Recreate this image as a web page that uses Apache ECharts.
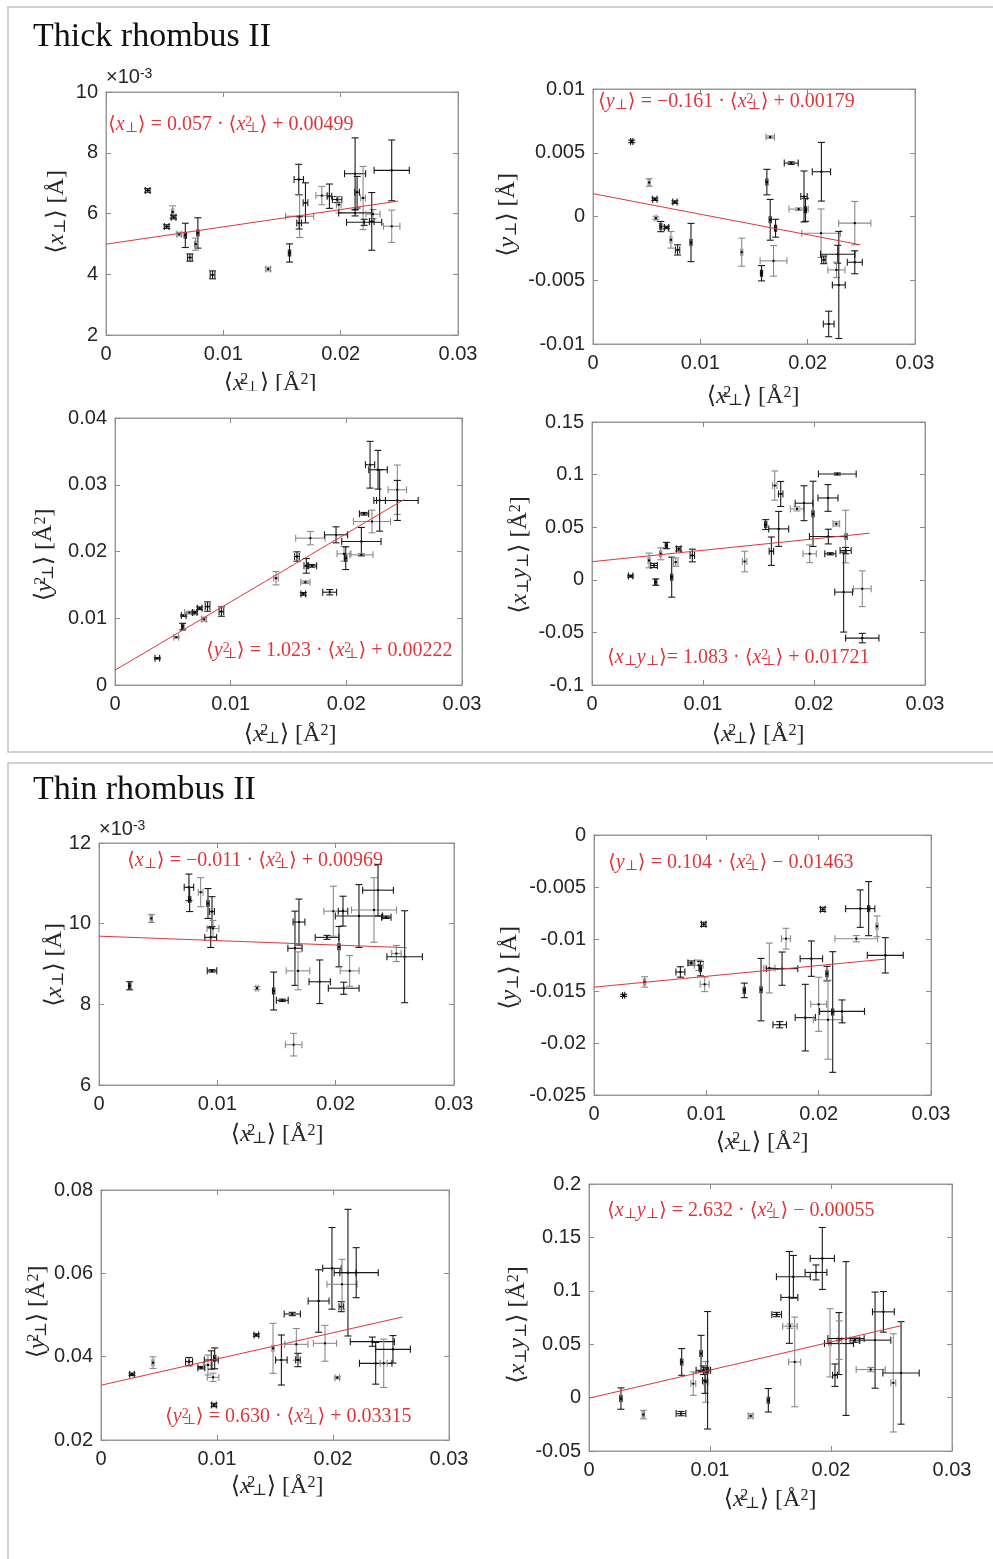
<!DOCTYPE html>
<html>
<head>
<meta charset="utf-8">
<script src="https://cdn.jsdelivr.net/npm/echarts@6/dist/echarts.min.js"></script>
<style>
  html, body { margin: 0; padding: 0; background: #fff; }
  #main { width: 993px; height: 1559px; }
</style>
</head>
<body>
<div id="main"></div>
<script type="text/javascript">
// ---- Thick rhombus II ----  (x = <x_perp^2>, y errors / x errors are half widths)
// <x_perp>, y in units of 1e-3
var thickXpX   = [0.00355,0.00568,0.00576,0.00517,0.00624,0.00676,0.00783,0.00764,0.00715,0.00908,0.01382,0.01564,0.01643,0.0165,0.01646,0.0170,0.01839,0.01904,0.0197,0.01984,0.02123,0.0214,0.02191,0.02123,0.0220,0.02276,0.02265,0.02435,0.02435];
var thickXpY   = [6.76,6.05,5.88,5.57,5.32,5.28,5.36,4.99,4.55,3.98,4.17,4.70,7.12,5.91,5.69,6.35,6.59,6.57,6.46,6.29,7.31,6.70,6.51,6.02,5.71,5.98,5.74,7.42,5.58];
var thickXpXe  = [0.0002,0.0001,0.0002,0.0002,0.0002,0.0001,0.0001,0.0001,0.0002,0.0002,0.0002,0.0001,0.0004,0.0012,0.0002,0.0002,0.0005,0.0002,0.0004,0.0002,0.0009,0.0002,0.0002,0.0014,0.0015,0.0006,0.0002,0.0015,0.0007];
var thickXpYe  = [0.06,0.2,0.06,0.06,0.06,0.4,0.5,0.2,0.12,0.13,0.06,0.3,0.5,0.7,0.2,0.66,0.3,0.4,0.1,0.27,1.18,0.52,1.04,0.1,0.1,0.15,0.95,1.0,0.53];
// <y_perp>
var thickYpX   = [0.00361,0.00523,0.00576,0.00763,0.00586,0.00632,0.00685,0.00726,0.00788,0.00913,0.01386,0.0157,0.0162,0.01651,0.01651,0.01701,0.01682,0.01847,0.01966,0.01916,0.0198,0.02128,0.02125,0.0215,0.0228,0.02268,0.0229,0.02196,0.02439,0.02439];
var thickYpY   = [0.00589,0.00267,0.00136,0.00113,-0.00013,-0.00079,-0.00086,-0.00183,-0.00262,-0.00204,-0.0028,-0.00445,0.0027,0.00623,-0.00026,-0.00092,-0.00348,0.00419,0.00157,0.00058,0.00052,0.00351,-0.00131,-0.0034,-0.00296,-0.00419,-0.00537,-0.00843,-0.00052,-0.00359];
var thickYpXe  = [0.0001,0.0001,0.0002,0.0002,0.0001,0.0001,0.0002,0.0001,0.0002,0.0001,0.0001,0.0001,0.0001,0.0004,0.0001,0.0001,0.00125,0.00065,0.0003,0.0009,0.0001,0.00085,0.0018,0.0002,0.0016,0.0008,0.0006,0.0005,0.0015,0.0007];
var thickYpYe  = [0.0001,0.0003,0.0001,0.0001,0.0001,0.0004,0.0001,0.00065,0.0004,0.0015,0.0011,0.0006,0.001,0.0001,0.0016,0.0007,0.0012,0.0001,0.002,0.0001,0.0009,0.0023,0.0019,0.0003,0.0007,0.0006,0.0042,0.001,0.0017,0.0009];
// <y_perp^2>
var thickY2X   = [0.00366,0.0053,0.00585,0.00594,0.00643,0.00689,0.00732,0.0077,0.0080,0.0092,0.01392,0.01573,0.01628,0.01646,0.01654,0.01703,0.01689,0.01856,0.01911,0.0198,0.01995,0.0213,0.0213,0.02153,0.02205,0.02222,0.02274,0.02288,0.02441,0.02441];
var thickY2Y   = [0.0040,0.00715,0.00875,0.0104,0.01085,0.01085,0.0115,0.00985,0.01175,0.011,0.016,0.01925,0.01365,0.0154,0.01785,0.01785,0.022,0.0139,0.0225,0.01965,0.019,0.0215,0.0195,0.02565,0.033,0.0245,0.03225,0.02765,0.02925,0.02765];
var thickY2Xe  = [0.0002,0.0002,0.0001,0.0002,0.0004,0.0002,0.0002,0.0002,0.0002,0.0002,0.0002,0.0002,0.0002,0.0004,0.0002,0.0004,0.00127,0.0006,0.001,0.0006,0.0001,0.0017,0.001,0.0004,0.0004,0.0016,0.0008,0.0005,0.0008,0.0018];
var thickY2Ye  = [0.0001,0.0001,0.0005,0.0001,0.0002,0.0002,0.0002,0.0003,0.0007,0.0007,0.001,0.0007,0.0002,0.0002,0.0011,0.0002,0.001,0.0004,0.0012,0.0011,0.0017,0.0021,0.0002,0.0002,0.0035,0.0017,0.0029,0.0046,0.0037,0.003];
// <x_perp y_perp>
var thickXYX   = [0.00348,0.00514,0.00559,0.00574,0.00619,0.0067,0.00718,0.00754,0.00781,0.00904,0.01375,0.01565,0.01616,0.01646,0.0170,0.01682,0.01847,0.0191,0.01991,0.01961,0.02126,0.0221,0.02201,0.02129,0.02147,0.02285,0.02285,0.02267,0.02435,0.02435];
var thickXYY   = [0.0035,0.0184,0.0136,-0.0022,0.0247,0.0326,0.0025,0.0168,0.0294,0.0231,0.0174,0.0525,0.0272,0.0896,0.0816,0.0484,0.0674,0.0728,0.0627,0.0247,0.0778,0.1006,0.0532,0.0411,0.0247,0.0411,0.0278,-0.0117,-0.0085,-0.0554];
var thickXYXe  = [0.0002,0.0001,0.0003,0.0001,0.0001,0.0001,0.0001,0.0002,0.0002,0.0002,0.0002,0.0001,0.0002,0.0002,0.0002,0.0009,0.0006,0.0008,0.0001,0.0006,0.0009,0.0017,0.0003,0.0017,0.0005,0.0001,0.0005,0.0008,0.0008,0.0015];
var thickXYYe  = [0.001,0.007,0.002,0.003,0.0057,0.003,0.019,0.004,0.002,0.006,0.0098,0.0047,0.0135,0.0139,0.0119,0.0166,0.002,0.0166,0.031,0.0084,0.0127,0.001,0.002,0.007,0.001,0.025,0.003,0.038,0.017,0.0045];

// ---- Thin rhombus II ----
// <x_perp>, y in units of 1e-3
var thinXpX    = [0.00259,0.00442,0.0076,0.00766,0.00859,0.00921,0.00955,0.00963,0.00944,0.00955,0.01335,0.01476,0.01549,0.01645,0.01656,0.0169,0.01682,0.01865,0.01927,0.0198,0.02062,0.02028,0.02118,0.02068,0.02197,0.02324,0.02358,0.02428,0.02513,0.02583];
var thinXpY    = [8.46,10.13,10.9,10.6,10.78,10.5,10.3,9.88,9.66,8.83,8.4,8.33,8.1,7.0,9.39,10.04,8.83,8.56,9.66,10.31,10.31,9.43,8.83,8.4,10.19,10.34,10.83,10.16,9.26,9.18];
var thinXpXe   = [0.0001,0.0001,0.0004,0.0001,0.0002,0.0001,0.0002,0.0005,0.0005,0.0004,0.0001,0.0001,0.0005,0.0007,0.0006,0.0005,0.001,0.0009,0.001,0.0008,0.0004,0.0001,0.0008,0.0013,0.002,0.0019,0.0013,0.0004,0.0004,0.0015];
var thinXpYe   = [0.1,0.1,0.33,0.3,0.36,0.37,0.37,0.2,0.25,0.03,0.04,0.47,0.03,0.28,0.92,0.57,0.47,0.54,0.05,0.62,0.37,0.5,0.38,0.15,0.78,0.8,0.64,0.03,0.2,1.14];
// <y_perp>
var thinYpX    = [0.00264,0.00451,0.00769,0.00866,0.00932,0.00947,0.00976,0.00985,0.01338,0.01487,0.01561,0.01674,0.01653,0.01709,0.01935,0.01881,0.02,0.02036,0.02074,0.02083,0.02125,0.02208,0.02335,0.0237,0.02445,0.02519,0.02593];
var thinYpY    = [-0.01542,-0.01413,-0.01317,-0.01231,-0.01253,-0.01285,-0.00859,-0.01436,-0.01494,-0.01487,-0.01279,-0.01285,-0.01824,-0.00997,-0.01189,-0.01756,-0.01628,-0.00715,-0.01333,-0.01776,-0.01702,-0.01696,-0.00997,-0.00708,-0.00708,-0.00878,-0.01157];
var thinYpXe   = [0.0001,0.0001,0.0004,0.0003,0.0004,0.0001,0.0002,0.0004,0.0001,0.0001,0.0005,0.0014,0.0006,0.0004,0.001,0.0009,0.0007,0.0002,0.0001,0.0013,0.0001,0.002,0.0019,0.0013,0.0001,0.0001,0.0016];
var thinYpYe   = [0.0001,0.0005,0.0005,0.0002,0.0005,0.0007,0.0002,0.0007,0.0007,0.003,0.0024,0.0016,0.0003,0.001,0.0017,0.0032,0.0026,0.0002,0.0007,0.0038,0.0058,0.0011,0.0003,0.0018,0.0026,0.001,0.0017];
// <y_perp^2>
var thinY2X    = [0.00267,0.00448,0.00759,0.00865,0.00922,0.00951,0.0098,0.00966,0.00974,0.01339,0.01483,0.01555,0.01649,0.01684,0.01698,0.01876,0.01931,0.01991,0.02072,0.02078,0.02129,0.022,0.02037,0.02339,0.02368,0.02437,0.02517];
var thinY2Y    = [0.03576,0.03856,0.0388,0.03736,0.038,0.0392,0.0396,0.03504,0.0284,0.0452,0.042,0.0392,0.05024,0.04296,0.0392,0.05336,0.0432,0.0612,0.052,0.05736,0.06016,0.06016,0.03496,0.0436,0.0384,0.0384,0.04176];
var thinY2Xe   = [0.0002,0.0001,0.0003,0.0003,0.0004,0.0006,0.0001,0.0005,0.0002,0.0002,0.0001,0.0005,0.0007,0.001,0.0002,0.0009,0.001,0.0008,0.0002,0.0013,0.0007,0.0019,0.0002,0.0019,0.0014,0.0003,0.0015];
var thinY2Ye   = [0.0003,0.0014,0.001,0.0003,0.0024,0.0022,0.0025,0.001,0.0004,0.0003,0.006,0.006,0.0004,0.0038,0.0016,0.0075,0.0043,0.0098,0.0012,0.006,0.0152,0.006,0.0003,0.0011,0.005,0.0058,0.0033];
// <x_perp y_perp>
var thinXYX    = [0.00264,0.00449,0.0076,0.00766,0.00862,0.00926,0.00945,0.00964,0.0098,0.00958,0.01336,0.01482,0.01551,0.01661,0.01656,0.01689,0.0170,0.01876,0.01928,0.01992,0.02033,0.02066,0.02069,0.02124,0.02198,0.02328,0.02364,0.02433,0.02515,0.02579];
var thinXYY    = [-0.0009,-0.0159,-0.015,0.0334,0.0131,0.0413,0.0256,0.0147,0.0256,0.016,-0.0172,-0.0025,0.0778,0.0669,0.0938,0.1131,0.0334,0.1172,0.1303,0.0513,0.021,0.0506,0.0538,0.0553,0.0538,0.0263,0.0538,0.0803,0.0138,0.0231];
var thinXYXe   = [0.0001,0.0001,0.0004,0.0001,0.0002,0.0001,0.0006,0.0002,0.0001,0.0002,0.0002,0.0001,0.0004,0.0006,0.0007,0.0014,0.0005,0.0009,0.001,0.0001,0.0002,0.0012,0.0002,0.0015,0.0004,0.0012,0.0013,0.0009,0.0002,0.0015];
var thinXYYe   = [0.01,0.004,0.002,0.0125,0.011,0.017,0.004,0.019,0.055,0.012,0.002,0.011,0.002,0.002,0.043,0.02,0.042,0.007,0.029,0.032,0.0105,0.029,0.018,0.072,0.002,0.002,0.045,0.019,0.046,0.048];

// linear fits printed on each panel: slope, intercept, last x of the line
var fitSlope     = [0.057, -0.161, 1.023, 1.083, -0.011, 0.104, 0.630, 2.632];
var fitIntercept = [0.00499, 0.00179, 0.00222, 0.01721, 0.00969, -0.01463, 0.03315, -0.00055];
var fitXEnd      = [0.0249, 0.0249, 0.0250, 0.0250, 0.0260, 0.0259, 0.0260, 0.0258];
var fitText = [
  '⟨{i|x}{sb|⊥}⟩ = 0.057 · ⟨{i|x}{sp|2}{sb|⊥}⟩ + 0.00499',
  '⟨{i|y}{sb|⊥}⟩ = −0.161 · ⟨{i|x}{sp|2}{sb|⊥}⟩ + 0.00179',
  '⟨{i|y}{sp|2}{sb|⊥}⟩ = 1.023 · ⟨{i|x}{sp|2}{sb|⊥}⟩ + 0.00222',
  '⟨{i|x}{sb|⊥}{i|y}{sb|⊥}⟩= 1.083 · ⟨{i|x}{sp|2}{sb|⊥}⟩ + 0.01721',
  '⟨{i|x}{sb|⊥}⟩ = −0.011 · ⟨{i|x}{sp|2}{sb|⊥}⟩ + 0.00969',
  '⟨{i|y}{sb|⊥}⟩ = 0.104 · ⟨{i|x}{sp|2}{sb|⊥}⟩ − 0.01463',
  '⟨{i|y}{sp|2}{sb|⊥}⟩ = 0.630 · ⟨{i|x}{sp|2}{sb|⊥}⟩ + 0.03315',
  '⟨{i|x}{sb|⊥}{i|y}{sb|⊥}⟩ = 2.632 · ⟨{i|x}{sp|2}{sb|⊥}⟩ − 0.00055'
];
var yNames = [
  '⟨{i|x}{sb|⊥}⟩ [Å]', '⟨{i|y}{sb|⊥}⟩ [Å]', '⟨{i|y}{sp|2}{sb|⊥}⟩ [Å{sq|2}]', '⟨{i|x}{sb|⊥}{i|y}{sb|⊥}⟩ [Å{sq|2}]',
  '⟨{i|x}{sb|⊥}⟩ [Å]', '⟨{i|y}{sb|⊥}⟩ [Å]', '⟨{i|y}{sp|2}{sb|⊥}⟩ [Å{sq|2}]', '⟨{i|x}{sb|⊥}{i|y}{sb|⊥}⟩ [Å{sq|2}]'
];
var xName = '⟨{i|x}{sp|2}{sb|⊥}⟩ [Å{sq|2}]';

// axis ranges  [min, max, interval]
var yRanges = [[2,10,2],[-0.01,0.01,0.005],[0,0.04,0.01],[-0.1,0.15,0.05],[6,12,2],[-0.025,0,0.005],[0.02,0.08,0.02],[-0.05,0.2,0.05]];
var yScale  = [1000,1,1,1,1000,1,1,1];

var panelX  = [thickXpX, thickYpX, thickY2X, thickXYX, thinXpX, thinYpX, thinY2X, thinXYX];
var panelY  = [thickXpY, thickYpY, thickY2Y, thickXYY, thinXpY, thinYpY, thinY2Y, thinXYY];
var panelXe = [thickXpXe, thickYpXe, thickY2Xe, thickXYXe, thinXpXe, thinYpXe, thinY2Xe, thinXYXe];
var panelYe = [thickXpYe, thickYpYe, thickY2Ye, thickXYYe, thinXpYe, thinYpYe, thinY2Ye, thinXYYe];

// layout
var grids = [
  {left:106, top:92,   width:352, height:243},
  {left:593, top:89,   width:322, height:255},
  {left:115, top:418,  width:347, height:267},
  {left:592, top:422,  width:333, height:263},
  {left:99,  top:843,  width:355, height:242},
  {left:594, top:835,  width:337, height:260},
  {left:101, top:1190, width:348, height:250},
  {left:589, top:1184, width:363, height:267}
];
var fitPos   = [[108,125],[598,102],[206,651],[607,658],[127,861],[608,863],[165,1417],[607,1211]];
var yNamePos = [[57,212],[508,215],[45,555],[520,555],[55,965],[510,968],[38,1312],[518,1325]];
var xNamePos = [[270,384],[753,397],[290,735],[758,735],[277,1135],[762,1143],[277,1487],[770,1500]];

var SERIF = '"Liberation Serif", "DejaVu Serif", serif';
var SANS = '"Liberation Sans", Arial, sans-serif';

function mathText(txt, pos, size, color, rot, align) {
  var sub = Math.round(size * 0.68);
  return {
    type: 'text', x: pos[0], y: pos[1], rotation: rot || 0, z: 100,
    style: {
      text: txt, fontSize: size, fontFamily: SERIF, fill: color,
      align: align || 'left', verticalAlign: 'middle',
      rich: {
        i:  {fontStyle: 'italic', fontSize: size, fontFamily: SERIF, fill: color},
        sb: {fontSize: sub, fontFamily: SERIF, fill: color, verticalAlign: 'bottom'},
        sp: {fontSize: sub, fontFamily: SERIF, fill: color, verticalAlign: 'top', width: 1},
        sq: {fontSize: sub, fontFamily: SERIF, fill: color, verticalAlign: 'top'}
      }
    }
  };
}

function renderErr(params, api) {
  var x = api.value(0), y = api.value(1), xe = api.value(2), ye = api.value(3);
  var c = api.coord([x, y]);
  var l = api.coord([x - xe, y]), r = api.coord([x + xe, y]);
  var t = api.coord([x, y + ye]), b = api.coord([x, y - ye]);
  var col = (params.dataIndex % 3 === 1) ? '#8a8a8a' : '#1a1a1a';
  var cap = 3.5;
  var st = {stroke: col, lineWidth: 1.1, fill: null};
  function seg(x1, y1, x2, y2) { return {type: 'line', shape: {x1: x1, y1: y1, x2: x2, y2: y2}, style: st}; }
  return {
    type: 'group',
    children: [
      seg(c[0], t[1], c[0], b[1]),
      seg(c[0] - cap, t[1], c[0] + cap, t[1]),
      seg(c[0] - cap, b[1], c[0] + cap, b[1]),
      seg(l[0], c[1], r[0], c[1]),
      seg(l[0], c[1] - cap, l[0], c[1] + cap),
      seg(r[0], c[1] - cap, r[0], c[1] + cap),
      {type: 'rect', shape: {x: c[0] - 1, y: c[1] - 1, width: 2, height: 2}, style: {fill: '#000'}}
    ]
  };
}

var xAxes = [], yAxes = [], series = [], gridOpts = [];
var axisCommon = {
  type: 'value',
  splitLine: {show: false},
  axisLine: {show: true, onZero: false, lineStyle: {color: '#9a9a9a', width: 1}},
  axisTick: {show: true, inside: true, length: 5, lineStyle: {color: '#8a8a8a'}}
};
function ax(extra) { return Object.assign({}, axisCommon, extra); }

for (var i = 0; i < 8; i++) {
  gridOpts.push(Object.assign({containLabel: false, show: true, borderColor: '#9a9a9a', borderWidth: 1, backgroundColor: '#fff'}, grids[i]));
  var sc = yScale[i];
  var yr = yRanges[i];
  xAxes.push(ax({gridIndex: i, position: 'bottom', min: 0, max: 0.03, interval: 0.01,
    axisLabel: {fontSize: 20, color: '#262626', fontFamily: SANS, margin: 9}}));
  xAxes.push(ax({gridIndex: i, position: 'top', min: 0, max: 0.03, interval: 0.01, axisLabel: {show: false}}));
  yAxes.push(ax({gridIndex: i, position: 'left', min: yr[0], max: yr[1], interval: yr[2],
    axisLabel: {fontSize: 20, color: '#262626', fontFamily: SANS, margin: 8}}));
  yAxes.push(ax({gridIndex: i, position: 'right', min: yr[0], max: yr[1], interval: yr[2], axisLabel: {show: false}}));

  var rows = panelX[i].map(function (v, k) { return [v, panelY[i][k], panelXe[i][k], panelYe[i][k]]; });
  series.push({
    type: 'custom', xAxisIndex: 2 * i, yAxisIndex: 2 * i,
    data: rows, encode: {x: 0, y: 1}, renderItem: renderErr, clip: false, z: 2, silent: true
  });
  var xe = fitXEnd[i];
  series.push({
    type: 'line', xAxisIndex: 2 * i, yAxisIndex: 2 * i, symbol: 'none', z: 3, silent: true,
    data: [[0, fitIntercept[i] * sc], [xe, (fitSlope[i] * xe + fitIntercept[i]) * sc]],
    lineStyle: {color: '#e3343a', width: 1}
  });
}

var graphics = [
  {type: 'rect', shape: {x: 8, y: 7, width: 1000, height: 745}, style: {fill: 'none', stroke: '#c4c4c4', lineWidth: 1.5}, z: 0},
  {type: 'rect', shape: {x: 8, y: 763, width: 1000, height: 820}, style: {fill: 'none', stroke: '#c4c4c4', lineWidth: 1.5}, z: 0},
  {type: 'text', x: 33, y: 37, z: 100, style: {text: 'Thick rhombus II', fontSize: 34, fontFamily: SERIF, fill: '#111', verticalAlign: 'middle'}},
  {type: 'text', x: 33, y: 790, z: 100, style: {text: 'Thin rhombus II', fontSize: 34, fontFamily: SERIF, fill: '#111', verticalAlign: 'middle'}},
  {type: 'text', x: 106, y: 77, z: 100, style: {text: '×10{e|-3}', fontSize: 20, fontFamily: SANS, fill: '#262626', verticalAlign: 'middle',
    rich: {e: {fontSize: 14, fontFamily: SANS, fill: '#262626', verticalAlign: 'top'}}}},
  {type: 'text', x: 99, y: 829, z: 100, style: {text: '×10{e|-3}', fontSize: 20, fontFamily: SANS, fill: '#262626', verticalAlign: 'middle',
    rich: {e: {fontSize: 14, fontFamily: SANS, fill: '#262626', verticalAlign: 'top'}}}}
];
for (var j = 0; j < 8; j++) {
  graphics.push(mathText(fitText[j], fitPos[j], 20, '#e3343a', 0, 'left'));
  graphics.push(mathText(yNames[j], yNamePos[j], 24, '#262626', Math.PI / 2, 'center'));
  graphics.push(mathText(xName, xNamePos[j], 24, '#262626', 0, 'center'));
}
// lower part of the first x label is hidden by the panel below in the source figure
graphics.push({type: 'rect', shape: {x: 210, y: 391, width: 130, height: 16}, style: {fill: '#fff'}, z: 110});

var myChart = echarts.init(document.getElementById('main'), null, {renderer: 'canvas'});
myChart.setOption({
  backgroundColor: '#fff',
  animation: false,
  grid: gridOpts,
  xAxis: xAxes,
  yAxis: yAxes,
  series: series,
  graphic: {elements: graphics}
});
</script>
</body>
</html>
